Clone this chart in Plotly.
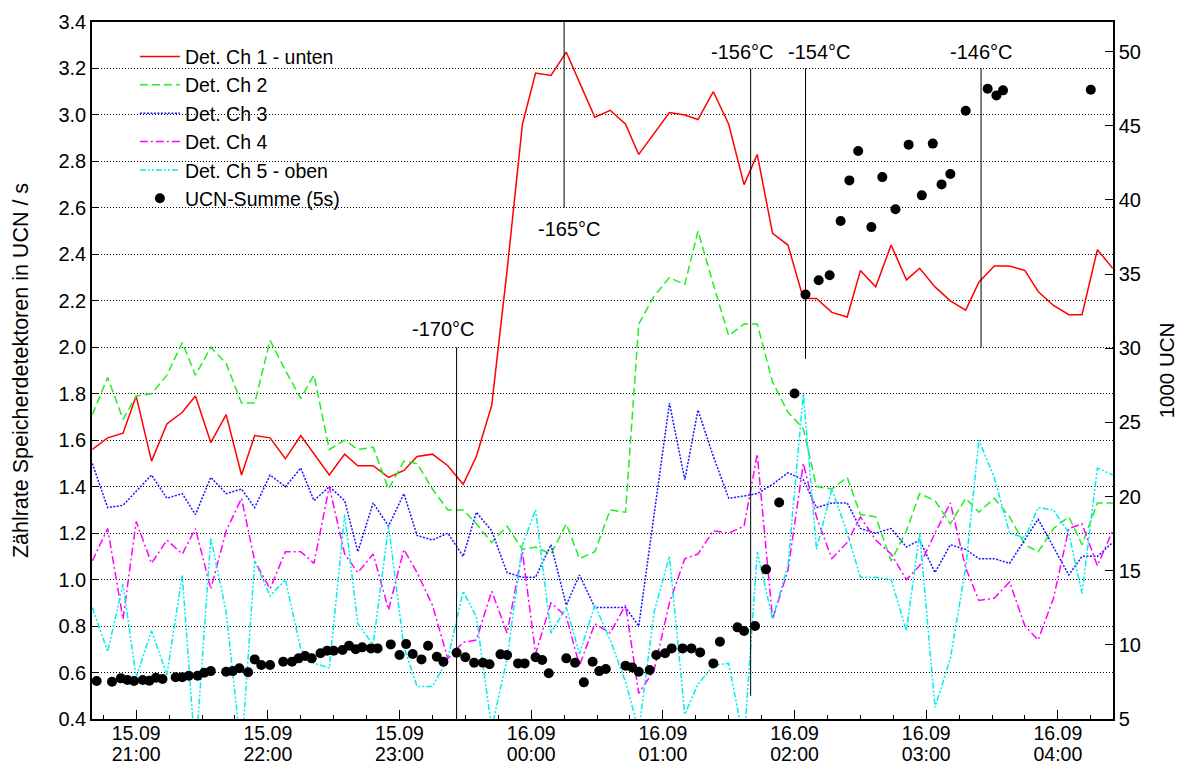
import datetime as dt
import plotly.graph_objects as go

# Clock times of the detector-rate samples (night 15.09 -> 16.09)
sample_times = [
    "20:40", "20:47", "20:54", "21:00", "21:07", "21:14", "21:21", "21:27", "21:34", "21:41",
    "21:48", "21:54", "22:01", "22:08", "22:15", "22:21", "22:28", "22:35", "22:41", "22:48",
    "22:55", "23:02", "23:08", "23:15", "23:22", "23:29", "23:35", "23:42", "23:49", "23:56",
    "00:02", "00:09", "00:16", "00:22", "00:29", "00:36", "00:43", "00:49", "00:56", "01:03",
    "01:10", "01:16", "01:23", "01:30", "01:37", "01:43", "01:50", "01:57", "02:04", "02:10",
    "02:17", "02:24", "02:30", "02:37", "02:44", "02:51", "02:57", "03:04", "03:11", "03:18",
    "03:24", "03:31", "03:38", "03:45", "03:51", "03:58", "04:05", "04:11", "04:18", "04:25",
]

# Count rates of the storage detectors in UCN/s
ch1_unten = [
    1.56, 1.61, 1.63, 1.79, 1.51, 1.67, 1.72, 1.79, 1.59, 1.71,
    1.45, 1.62, 1.61, 1.52, 1.62, 1.54, 1.45, 1.54, 1.49, 1.49,
    1.44, 1.47, 1.53, 1.54, 1.49, 1.41, 1.53, 1.75, 2.33, 2.96,
    3.18, 3.17, 3.27, 3.14, 2.99, 3.02, 2.96, 2.83, 2.92, 3.01,
    3.00, 2.98, 3.10, 2.96, 2.70, 2.83, 2.49, 2.44, 2.21, 2.21,
    2.15, 2.13, 2.33, 2.26, 2.44, 2.29, 2.34, 2.26, 2.20, 2.16,
    2.28, 2.35, 2.35, 2.33, 2.24, 2.18, 2.14, 2.14, 2.42, 2.34,
]
ch2 = [
    1.71, 1.87, 1.69, 1.79, 1.80, 1.88, 2.02, 1.88, 2.00, 1.93,
    1.76, 1.76, 2.03, 1.90, 1.78, 1.88, 1.56, 1.60, 1.56, 1.57,
    1.39, 1.51, 1.50, 1.39, 1.30, 1.30, 1.24, 1.16, 1.23, 1.13,
    1.14, 1.11, 1.24, 1.09, 1.12, 1.30, 1.29, 2.10, 2.22, 2.30,
    2.27, 2.50, 2.27, 2.05, 2.10, 2.10, 1.85, 1.72, 1.65, 1.40,
    1.39, 1.44, 1.28, 1.27, 1.08, 1.21, 1.37, 1.34, 1.24, 1.35,
    1.29, 1.35, 1.27, 1.15, 1.12, 1.22, 1.27, 1.15, 1.33, 1.33,
]
ch3 = [
    1.50, 1.31, 1.32, 1.38, 1.45, 1.35, 1.37, 1.28, 1.44, 1.37,
    1.39, 1.31, 1.45, 1.40, 1.48, 1.34, 1.40, 1.34, 1.12, 1.33,
    1.23, 1.37, 1.19, 1.17, 1.20, 1.10, 1.29, 1.21, 1.03, 1.01,
    1.01, 1.15, 0.89, 1.02, 0.88, 0.88, 0.88, 0.80, 1.29, 1.76,
    1.43, 1.73, 1.53, 1.35, 1.36, 1.37, 1.41, 1.46, 1.43, 1.31,
    1.33, 1.33, 1.22, 1.20, 1.22, 1.14, 1.17, 1.03, 1.15, 1.13,
    1.09, 1.09, 1.07, 1.17, 1.26, 1.14, 1.02, 1.10, 1.10, 1.16,
]
ch4 = [
    1.08, 1.22, 0.83, 1.25, 1.07, 1.17, 1.11, 1.22, 0.96, 1.21,
    1.35, 1.08, 0.96, 1.12, 1.12, 1.07, 1.40, 1.11, 1.03, 1.11,
    0.87, 1.13, 1.03, 0.89, 0.66, 0.73, 0.74, 0.95, 0.77, 1.12,
    0.68, 0.90, 0.84, 0.63, 0.81, 0.77, 0.89, 0.51, 0.61, 0.90,
    1.09, 1.11, 1.21, 1.20, 1.23, 1.54, 0.83, 1.04, 1.50, 1.27,
    1.09, 1.16, 1.27, 1.17, 1.11, 1.00, 1.06, 1.20, 1.33, 1.05,
    0.91, 0.92, 0.99, 0.80, 0.74, 0.92, 1.22, 1.24, 1.06, 1.21,
]
ch5_oben = [
    0.88, 0.69, 0.98, 0.58, 0.78, 0.59, 1.02, 0.24, 1.18, 0.86,
    0.25, 1.08, 0.93, 1.00, 0.70, 0.64, 0.62, 1.28, 0.81, 0.72,
    1.23, 0.71, 0.54, 0.54, 0.66, 0.95, 0.84, 0.36, 0.66, 1.15,
    1.30, 0.77, 0.88, 0.68, 0.89, 0.74, 0.56, 0.35, 0.86, 1.10,
    0.42, 0.55, 0.63, 0.64, 0.30, 1.12, 0.83, 1.06, 1.80, 1.13,
    1.39, 1.20, 1.01, 1.01, 1.00, 0.78, 1.20, 0.45, 0.66, 1.05,
    1.60, 1.44, 1.20, 1.18, 1.31, 1.30, 1.20, 0.94, 1.48, 1.45,
]

# UCN sum per 5 s filling, in units of 1000 UCN
ucn_times = [
    "20:42", "20:49", "20:53", "20:56", "20:59", "21:03", "21:06", "21:09", "21:12", "21:18",
    "21:21", "21:24", "21:28", "21:31", "21:34", "21:41", "21:44", "21:47", "21:51", "21:54",
    "21:57", "22:01", "22:07", "22:11", "22:14", "22:17", "22:20", "22:24", "22:27", "22:30",
    "22:34", "22:37", "22:40", "22:43", "22:47", "22:50", "22:56", "23:00", "23:03", "23:06",
    "23:10", "23:13", "23:17", "23:20", "23:26", "23:30", "23:34", "23:38", "23:41", "23:46",
    "23:49", "23:54", "23:57", "00:02", "00:05", "00:08", "00:16", "00:20", "00:24", "00:28",
    "00:31", "00:34", "00:43", "00:46", "00:49", "00:54", "00:57", "01:01", "01:04", "01:09",
    "01:13", "01:17", "01:23", "01:26", "01:34", "01:37", "01:42", "01:47", "01:53", "02:00",
    "02:05", "02:11", "02:16", "02:21", "02:25", "02:29", "02:35", "02:40", "02:46", "02:52",
    "02:58", "03:03", "03:07", "03:11", "03:18", "03:28", "03:32", "03:35", "04:15",
]
ucn_sum = [
    7.56, 7.51, 7.74, 7.63, 7.56, 7.63, 7.58, 7.78, 7.70, 7.81,
    7.81, 7.92, 7.92, 8.12, 8.23, 8.19, 8.23, 8.42, 8.15, 9.02,
    8.64, 8.64, 8.86, 8.86, 9.09, 9.25, 9.09, 9.43, 9.60, 9.60,
    9.65, 9.94, 9.70, 9.83, 9.76, 9.76, 10.03, 9.31, 10.05, 9.38,
    9.02, 9.94, 9.20, 8.86, 9.47, 9.16, 8.79, 8.79, 8.69, 9.36,
    9.31, 8.75, 8.75, 9.16, 8.98, 8.08, 9.09, 8.79, 7.47, 8.86,
    8.23, 8.37, 8.59, 8.48, 8.19, 8.30, 9.31, 9.43, 9.76, 9.76,
    9.76, 9.49, 8.75, 10.21, 11.18, 10.93, 11.27, 15.09, 19.60, 26.95,
    33.62, 34.58, 34.92, 38.58, 41.32, 43.30, 38.17, 41.54, 39.37, 43.73,
    40.31, 43.80, 41.05, 41.75, 46.02, 47.50, 47.05, 47.39, 47.43,
]

# Temperature readings marked in the run
temp_labels = ["-170°C", "-165°C", "-156°C", "-154°C", "-146°C"]
temp_times = ["23:26", "00:15", "01:40", "02:05", "03:25"]
temp_line_from = [0.4, 2.6, 0.5, 1.95, 2.0]
temp_line_to = [2.0, 3.4, 3.2, 3.2, 3.2]
temp_label_times = ["23:20", "00:17", "01:36", "02:11", "03:25"]
temp_label_levels = [2.08, 2.51, 3.27, 3.27, 3.27]

hour_ticks = ["21:00", "22:00", "23:00", "00:00", "01:00", "02:00", "03:00", "04:00"]
x_window = ("20:39:52", "04:25:07")


def stamp(clock):
    """Clock time of the night run -> datetime (evening on 15.09, morning on 16.09)."""
    parts = [int(p) for p in clock.split(":")]
    h, m = parts[0], parts[1]
    s = parts[2] if len(parts) > 2 else 0
    day = 15 if h >= 12 else 16
    return dt.datetime(2009, 9, day, h, m, s)


t_rate = [stamp(c) for c in sample_times]
t_ucn = [stamp(c) for c in ucn_times]
x_range = [stamp(x_window[0]), stamp(x_window[1])]

FONT = "Liberation Sans, Arial, Helvetica, sans-serif"

channels = [
    ("Det. Ch 1 - unten", ch1_unten, "#ff0000", "solid"),
    ("Det. Ch 2", ch2, "#22ee22", "8px,4px"),
    ("Det. Ch 3", ch3, "#1515ff", "2px,1.5px"),
    ("Det. Ch 4", ch4, "#ff00ff", "8px,3px,2px,3px"),
    ("Det. Ch 5 - oben", ch5_oben, "#00eeee", "6px,2px,2px,2px,2px,2px"),
]

fig = go.Figure()
for name, values, color, dash in channels:
    fig.add_trace(go.Scatter(
        x=t_rate, y=values, name=name, mode="lines",
        line=dict(color=color, width=1.5, dash=dash),
    ))

# UCN sum on the right-hand scale (x2 shares the time range of x and carries the date row)
fig.add_trace(go.Scatter(
    x=t_ucn, y=ucn_sum, name="UCN-Summe (5s)", mode="markers",
    xaxis="x2", yaxis="y2",
    marker=dict(color="black", size=10, line=dict(width=0)),
))

# Temperature marker lines and their labels
for label, t, y0, y1, lt, ly in zip(temp_labels, temp_times, temp_line_from, temp_line_to,
                                    temp_label_times, temp_label_levels):
    fig.add_shape(type="line", xref="x", yref="y", x0=stamp(t), x1=stamp(t), y0=y0, y1=y1,
                  line=dict(color="black", width=1), layer="above")
    fig.add_annotation(x=stamp(lt), y=ly, xref="x", yref="y", text=label, showarrow=False,
                       xanchor="center", yanchor="middle",
                       font=dict(family=FONT, size=20, color="black"))

tick_stamps = [stamp(c) for c in hour_ticks]
time_text = [f"{d:%H:%M}" for d in tick_stamps]
date_text = [f"{d:%d.%m}" for d in tick_stamps]

fig.update_layout(
    width=1180, height=767,
    margin=dict(l=92, r=67, t=22, b=48, autoexpand=False),
    paper_bgcolor="white", plot_bgcolor="white",
    font=dict(family=FONT, size=20, color="black"),
    showlegend=True,
    legend=dict(
        x=0.042, y=0.978, xanchor="left", yanchor="top",
        bgcolor="rgba(0,0,0,0)", borderwidth=0,
        font=dict(family=FONT, size=19.5, color="black"),
        itemwidth=40,
    ),
    # time of day (lower label row) with the hour / quarter-hour ticks
    xaxis=dict(
        type="date", range=x_range, automargin=False,
        tickmode="array", tickvals=tick_stamps, ticktext=time_text,
        ticklabelstandoff=17,
        ticks="inside", ticklen=9, tickwidth=1, tickcolor="black",
        minor=dict(dtick=15 * 60 * 1000, ticks="inside", ticklen=4, tickcolor="black",
                   showgrid=False),
        showgrid=False, zeroline=False,
        showline=True, linecolor="black", linewidth=1.5, mirror=True,
        tickfont=dict(family=FONT, size=19.5),
    ),
    # date (upper label row)
    xaxis2=dict(
        type="date", range=x_range, overlaying="x", anchor="y", side="bottom",
        automargin=False,
        tickmode="array", tickvals=tick_stamps, ticktext=date_text,
        ticks="", showgrid=False, zeroline=False, showline=False,
        tickfont=dict(family=FONT, size=19.5),
    ),
    yaxis=dict(
        range=[0.4, 3.4], dtick=0.2, tickformat=".1f", automargin=False,
        ticks="inside", ticklen=6, tickcolor="black",
        showgrid=True, gridcolor="black", gridwidth=1, griddash="1px,2px",
        zeroline=False, showline=True, linecolor="black", linewidth=1.5,
        title=dict(text="Zählrate Speicherdetektoren in UCN / s",
                   font=dict(family=FONT, size=21.5), standoff=24),
        tickfont=dict(family=FONT, size=20),
    ),
    yaxis2=dict(
        overlaying="y", side="right", automargin=False,
        range=[5, 52], dtick=5,
        ticks="inside", ticklen=8, tickcolor="black",
        showgrid=False, zeroline=False, showline=True, linecolor="black", linewidth=1.5,
        title=dict(text="1000 UCN", font=dict(family=FONT, size=20.5), standoff=20),
        tickfont=dict(family=FONT, size=20),
    ),
)

fig.write_html("out.html")
